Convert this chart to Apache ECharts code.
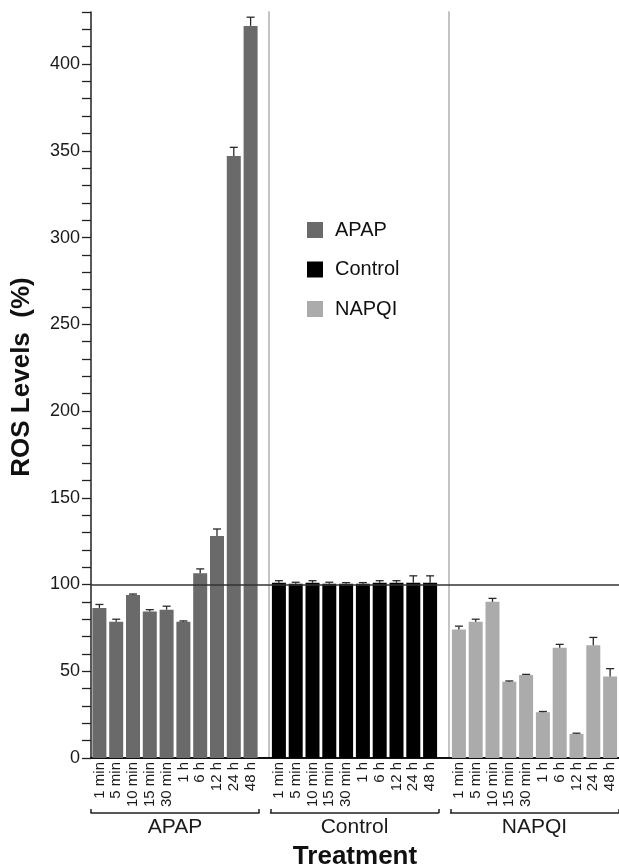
<!DOCTYPE html>
<html>
<head>
    <meta charset="utf-8" />
    <script type="text/javascript" src="https://cdn.jsdelivr.net/npm/echarts@6.0.0/dist/echarts.min.js"></script>
    <style>
      body { margin: 0; background: #fff; }
      #container { width: 619px; height: 867px; }
    </style>
</head>
<body>
<div id="container"></div>
<script>
// time points, same for every treatment
var times = ['1 min', '5 min', '10 min', '15 min', '30 min', '1 h', '6 h', '12 h', '24 h', '48 h'];
var groups = ['APAP', 'Control', 'NAPQI'];

// ROS levels (%), mean and upper error
var apapMean = [86.5, 78.5, 94, 84.5, 85.5, 78.5, 106.5, 128, 347, 422];
var apapErr = [2, 1.5, 0.5, 1, 2, 0.5, 2.5, 4, 5, 5];
var controlMean = [101, 100.5, 101, 100.5, 100.5, 100.5, 101, 101, 101, 101];
var controlErr = [1.2, 0.8, 1.2, 0.8, 0.6, 0.6, 1.2, 1.2, 4, 4];
var napqiMean = [74, 78.5, 90, 44, 47.8, 26.4, 63.5, 13.9, 65, 47];
var napqiErr = [2, 1.5, 2, 0.4, 0.4, 0.4, 2, 0.4, 4.5, 4.5];

var yMin = 0, yMax = 430, yStep = 10, yLabelStep = 50;
var refLine = 100;

var colors = ['#6a6a6a', '#000000', '#ababab'];
var font = 'Liberation Sans, Arial, Helvetica, sans-serif';

var means = [apapMean, controlMean, napqiMean];
var errs = [apapErr, controlErr, napqiErr];

var gridLeft = [91, 270.5, 450.5];
var gridTop = 12, gridBottom = 109, gridW = 168;

// error bars: stem from bar top + cap
function errorBar(params, api) {
  var base = api.coord([api.value(0), api.value(1)]);
  var top = api.coord([api.value(0), api.value(1) + api.value(2)]);
  var st = { stroke: '#2a2a2a', lineWidth: 1.3 };
  return {
    type: 'group',
    children: [
      { type: 'line', shape: { x1: base[0], y1: base[1], x2: top[0], y2: top[1] }, style: st },
      { type: 'line', shape: { x1: top[0] - 4, y1: top[1], x2: top[0] + 4, y2: top[1] }, style: st }
    ]
  };
}

// grid 0 = full-width overlay for the bottom axis line and the 100% line
var grid = [{ left: 91, right: 0, top: gridTop, bottom: gridBottom, outerBoundsMode: 'none', containLabel: false }];
var xAxis = [{
  gridIndex: 0, type: 'category', data: [''],
  axisLine: { lineStyle: { color: '#111', width: 2 } },
  axisTick: { show: false }, axisLabel: { show: false },
  name: 'Treatment', nameLocation: 'middle', nameGap: 86,
  nameTextStyle: { fontSize: 26, fontWeight: 'bold', color: '#111', fontFamily: font }
}];
var yAxis = [{
  gridIndex: 0, type: 'value', min: yMin, max: yMax, interval: yStep,
  show: false
}];
var series = [{
  type: 'line', xAxisIndex: 0, yAxisIndex: 0, data: [],
  markLine: {
    silent: true, symbol: 'none', z: 10,
    label: { show: false },
    lineStyle: { color: '#333', width: 1.5, type: 'solid' },
    data: [{ yAxis: refLine }]
  }
}];

for (var g = 0; g < 3; g++) {
  grid.push({ left: gridLeft[g], width: gridW, top: gridTop, bottom: gridBottom, outerBoundsMode: 'none', containLabel: false });
  var gi = g + 1;
  // time labels
  xAxis.push({
    gridIndex: gi, type: 'category', data: times,
    axisLine: { show: false }, axisTick: { show: false },
    axisLabel: { rotate: 90, interval: 0, fontSize: 15, margin: 4, color: '#1a1a1a', fontFamily: font }
  });
  // group bracket
  xAxis.push({
    gridIndex: gi, type: 'category', data: [groups[g]], position: 'bottom', offset: 55,
    axisLine: { lineStyle: { color: '#222', width: 1.5 } },
    axisTick: { show: true, inside: true, length: 4, lineStyle: { color: '#222', width: 1.5 } },
    axisLabel: { fontSize: 21, margin: 4, color: '#1a1a1a', fontFamily: font }
  });
  if (g === 0) {
    yAxis.push({
      gridIndex: gi, type: 'value', min: yMin, max: yMax, interval: yStep,
      axisLine: { show: true, lineStyle: { color: '#222', width: 1.5 } },
      axisTick: { show: true, length: 9, lineStyle: { color: '#222', width: 1.3 } },
      splitLine: { show: false },
      axisLabel: {
        fontSize: 18, margin: 11, color: '#1a1a1a', fontFamily: font,
        formatter: function (v) { return v % yLabelStep === 0 ? v : ''; }
      },
      name: 'ROS Levels  (%)', nameLocation: 'middle', nameGap: 56,
      nameTextStyle: { fontSize: 26, fontWeight: 'bold', color: '#111', fontFamily: font, padding: [0, 0, 0, 16] }
    });
  } else {
    // grey separators between treatment groups
    yAxis.push({
      gridIndex: gi, type: 'value', min: yMin, max: yMax, interval: yStep, offset: 2,
      axisLine: { show: true, lineStyle: { color: '#c4c4c4', width: 2 } },
      axisTick: { show: false }, axisLabel: { show: false }, splitLine: { show: false }
    });
  }
  series.push({
    name: groups[g], type: 'bar', xAxisIndex: 2 * g + 1, yAxisIndex: gi,
    barWidth: 14, itemStyle: { color: colors[g] },
    data: means[g]
  });
  series.push({
    type: 'custom', xAxisIndex: 2 * g + 1, yAxisIndex: gi, z: 5,
    renderItem: errorBar,
    data: means[g].map(function (m, i) { return [i, m, errs[g][i]]; })
  });
}

var dom = document.getElementById('container');
var myChart = echarts.init(dom);
var option = {
  animation: false,
  legend: {
    orient: 'vertical', left: 302, top: 215,
    itemWidth: 16, itemHeight: 16, itemGap: 19.5,
    icon: 'rect',
    data: groups,
    textStyle: { fontSize: 20, color: '#111', fontFamily: font, padding: [0, 0, 0, 7] }
  },
  grid: grid,
  xAxis: xAxis,
  yAxis: yAxis,
  series: series
};
myChart.setOption(option);
</script>
</body>
</html>
